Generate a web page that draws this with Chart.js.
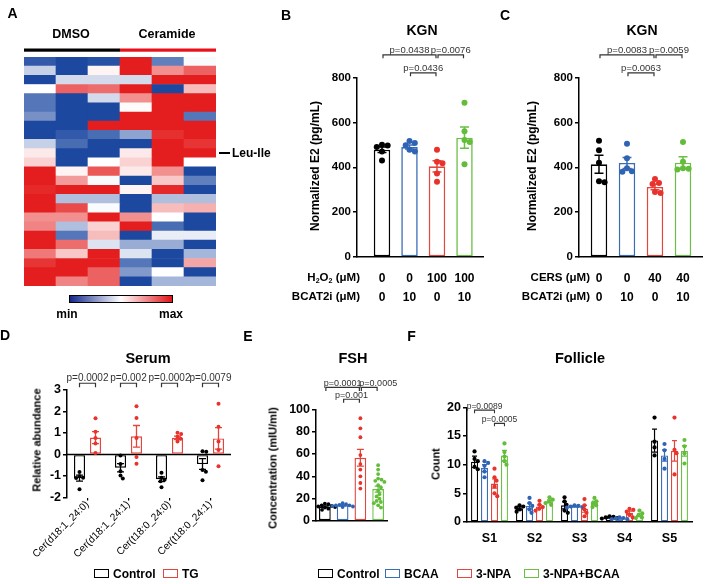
<!DOCTYPE html>
<html><head><meta charset="utf-8">
<script src="https://cdn.jsdelivr.net/npm/chart.js@4.4.1/dist/chart.umd.min.js"></script>
<style>
html,body{margin:0;padding:0;background:#fff;}
#root{position:relative;width:709px;height:584px;overflow:hidden;font-family:"Liberation Sans",Arial,Helvetica,sans-serif;}
#root canvas{position:absolute;left:0;top:0;}
.t{position:absolute;white-space:nowrap;font-weight:bold;color:#000;line-height:1;}
.t sub{font-size:0.62em;vertical-align:-0.2em;line-height:0;}
.box{position:absolute;box-sizing:border-box;background:#fff;}
</style></head>
<body><div id="root"></div>
<script>
// ================= DATA =================
// Panel A heatmap (-1 = min, +1 = max), rows top to bottom
const heatColumns = ['DMSO 1','DMSO 2','DMSO 3','Ceramide 1','Ceramide 2','Ceramide 3'];
const heatValues = [
  [-0.9, -1, -0.95, 1, -0.7, -0.03],
  [-0.25, -1, 0.05, 1, 0.5, 0.7],
  [-1, -0.2, -0.2, -0.2, 1, 1],
  [0, 0.7, 0.65, 1, -1, 0.3],
  [-0.75, -1, -0.2, 0.5, 1, 1],
  [-0.75, -1, -1, 0.02, 1, 1],
  [-0.6, -1, -1, 1, 1, -0.75],
  [-1, -1, 1, 1, 1, 1],
  [-1, -0.9, -0.8, -0.5, 0.92, 1],
  [-0.25, -0.8, -1, -1, 1, 0.9],
  [0.1, -1, -1, 0.1, 1, 1],
  [0.2, -1, 0, 0.2, 1, 0],
  [1, 0.05, 0.75, 0.1, 0.5, -1],
  [1, 0.45, -0.03, -1, 0.25, -0.7],
  [0.95, 1, 1, 0.05, 0.95, -1],
  [1, -0.35, -0.35, -1, -0.35, -0.35],
  [1, 0.8, -0.02, -1, 0.3, 0.35],
  [0.5, 0.5, 1, 0.5, 0, -1],
  [0.55, -0.35, 0.2, 1, -0.8, -1],
  [1, -0.75, 0.3, -1, -0.1, -0.1],
  [1, 0.65, -0.15, -0.45, -0.45, -1],
  [0.6, 0.25, 1, -0.15, -1, -0.4],
  [0.9, 1, 1, -0.75, -1, 0.4],
  [1, 1, 0.7, -0.55, 0, -1],
  [1, 0.55, 0.7, -1, -0.4, -0.4]
];
const heatLabelRow = 10;          // Leu-Ile
const heatLabel = 'Leu-Ile';

// Panel B (KGN, H2O2)
const bRow1 = ['0', '0', '100', '100'];
const bRow2 = ['0', '10', '0', '10'];
const bMeans = [478, 490, 404, 532];
const bSem = [12, 9, 25, 47];
const bPoints = [[500, 497, 490, 470, 430], [517, 508, 498, 478, 470], [478, 425, 418, 372, 335], [688, 560, 522, 512, 413]];
const bPvals = ['p=0.0438', 'p=0.0076', 'p=0.0436'];

// Panel C (KGN, CERS)
const cRow1 = ['0', '0', '40', '40'];
const cRow2 = ['0', '10', '0', '10'];
const cMeans = [413, 419, 312, 420];
const cSem = [40, 25, 12, 27];
const cPoints = [[518, 476, 420, 338, 333], [505, 440, 395, 382, 380], [348, 330, 325, 290, 285], [512, 425, 395, 393, 390]];
const cPvals = ['p=0.0083', 'p=0.0059', 'p=0.0063'];

// Panel D (Serum)
const dCats = ['Cer(d18:1_24:0)', 'Cer(d18:1_24:1)', 'Cer(t18:0_24:0)', 'Cer(t18:0_24:1)'];
const dCtrlMean = [-1.1, -0.62, -1.15, -0.45];
const dCtrlSem = [0.14, 0.19, 0.11, 0.25];
const dCtrlPts = [[-0.82, -1.02, -1.08, -1.1, -1.62], [-0.05, -0.45, -0.78, -0.98, -1.12], [-0.85, -1.08, -1.18, -1.25, -1.52], [0.15, 0.12, -0.72, -0.8, -1.2]];
const dTgMean = [0.78, 0.84, 0.77, 0.74];
const dTgSem = [0.28, 0.5, 0.08, 0.5];
const dTgPts = [[1.68, 1.05, 0.76, 0.5, 0.06], [2.23, 1.69, 0.76, -0.12, -0.43], [1.0, 0.95, 0.82, 0.72, 0.6], [2.35, 1.28, 0.6, 0.2, -0.55]];
const dPvals = ['p=0.0002', 'p=0.002', 'p=0.0002', 'p=0.0079'];

// Panel E (FSH)
const eGroups = ['Control', 'BCAA', '3-NPA', '3-NPA+BCAA'];
const eMeans = [12.9, 14.0, 56.6, 28.6];
const eSem = [0.7, 0.5, 7.5, 2.7];
const ePoints = [
  [15.5, 15, 14, 13.5, 13, 12.5, 12, 11, 10],
  [16, 15, 14.5, 14, 14, 13.5, 13, 12.5],
  [92, 83, 75, 59, 51, 46, 40, 34, 29],
  [50, 46, 42, 38, 37, 36, 35, 32, 30, 27, 24, 22, 20, 18, 17, 16, 14, 12]
];
const ePvals = ['p=0.0001', 'p=0.0005', 'p=0.001'];

// Panel F (Follicle)
const fCats = ['S1', 'S2', 'S3', 'S4', 'S5'];
const fCtrlMean = [10.5, 2.4, 2.9, 0.8, 14.2];
const fBcaaMean = [9.4, 2.8, 2.7, 0.6, 11.6];
const fNpaMean = [6.7, 2.7, 2.3, 1.6, 12.4];
const fComboMean = [11.6, 3.6, 3.3, 1.2, 12.4];
const fCtrlSem = [1.0, 0.25, 0.6, 0.08, 2.0];
const fBcaaSem = [0.6, 0.5, 0.08, 0.06, 1.0];
const fNpaSem = [0.8, 0.3, 0.6, 0.3, 1.8];
const fComboSem = [0.9, 0.25, 0.35, 0.28, 0.9];
const fCtrlPts = [[12.3, 11.0, 10.6, 9.6, 9.2], [2.9, 2.7, 2.5, 2.2, 1.8], [4.3, 3.6, 3.0, 2.0, 1.6], [1.0, 0.9, 0.8, 0.7, 0.6], [18.2, 14.0, 13.0, 11.6]];
const fBcaaPts = [[10.6, 10.3, 9.8, 8.8, 7.8], [4.2, 3.3, 2.8, 2.2, 1.6], [2.9, 2.8, 2.7, 2.6, 2.5], [0.8, 0.7, 0.6, 0.5, 0.5], [13.6, 12.5, 11.0, 9.3]];
const fNpaPts = [[9.3, 7.8, 7.2, 6.2, 5.0, 4.5], [3.7, 3.0, 2.6, 2.3, 2.0], [4.0, 2.9, 2.2, 1.6, 1.0], [2.3, 2.1, 1.8, 1.2, 0.8], [18.2, 12.6, 12.0, 8.3]];
const fComboPts = [[13.7, 12.2, 11.4, 10.6, 10.0], [4.3, 3.9, 3.6, 3.3, 3.0], [4.2, 3.6, 3.3, 2.9, 2.6], [2.0, 1.5, 1.2, 0.8, 0.7], [14.3, 13.2, 12.0, 10.2]];
const fPvals = ['p=0.0089', 'p=0.0005'];

// ================= STYLE =================
const FONT = '"Liberation Sans", Arial, Helvetica, sans-serif';
const barColors = ['#000000', '#3b6db6', '#e2463d', '#6abf45'];
const dotColors = ['#000000', '#2f63b3', '#e8322b', '#63bd3b'];
Chart.defaults.font.family = FONT;
Chart.defaults.color = '#000';

const W = 709, H = 584;
const root = document.getElementById('root');

function newCtx() {
  const c = document.createElement('canvas');
  c.width = W; c.height = H; c.style.width = W + 'px'; c.style.height = H + 'px';
  root.appendChild(c);
  return c.getContext('2d');
}
function text(html, x, y, o = {}) {
  const d = document.createElement('div');
  d.className = 't';
  d.innerHTML = html;
  d.style.left = x + 'px'; d.style.top = y + 'px';
  d.style.fontSize = (o.size || 12) + 'px';
  if (o.weight) d.style.fontWeight = o.weight;
  if (o.color) d.style.color = o.color;
  let tr = o.align === 'left' ? 'translate(0,-50%)' : o.align === 'right' ? 'translate(-100%,-50%)' : 'translate(-50%,-50%)';
  if (o.rot) tr += ' rotate(' + o.rot + 'deg)';
  d.style.transform = tr;
  root.appendChild(d);
}
function legendItem(x, y, color, label) {
  const d = document.createElement('div');
  d.className = 'box';
  Object.assign(d.style, { left: x + 'px', top: (y - 4.5) + 'px', width: '15px', height: '9px', border: '1.5px solid ' + color });
  root.appendChild(d);
  text(label, x + 19, y + 0.5, { size: 12, align: 'left' });
}
function pad(area, yW, xH) {
  return { left: area.l - yW, top: area.t, right: W - area.r, bottom: H - area.b - xH };
}
const pick = (v, j) => Array.isArray(v) ? v[j] : v;

function heatColor(v) {
  const lo = [28, 72, 160], hi = [228, 30, 30];
  const t = Math.min(1, Math.abs(v)), e = v < 0 ? lo : hi;
  const c = e.map(ec => Math.round(255 + (ec - 255) * t));
  return 'rgb(' + c.join(',') + ')';
}

function swarm(xc, ys, r) {
  const gap = 2 * r * 0.95;
  const idx = ys.map((_, i) => i).sort((a, b) => ys[a] - ys[b]);
  const placed = [], out = new Array(ys.length);
  idx.forEach(i => {
    const y = ys[i];
    const near = placed.filter(p => Math.abs(p.y - y) < gap);
    const cands = [xc];
    near.forEach(p => { const dx = Math.sqrt(gap * gap - (p.y - y) ** 2); cands.push(p.x + dx, p.x - dx); });
    cands.sort((a, b) => Math.abs(a - xc) - Math.abs(b - xc));
    let x = xc;
    for (const c of cands) { if (near.every(p => Math.hypot(p.x - c, p.y - y) >= gap - 0.01)) { x = c; break; } }
    placed.push({ x, y }); out[i] = { x, y };
  });
  return out;
}

function errDots(o) {
  return { id: 'errDots', afterDatasetsDraw(chart) {
    const ctx = chart.ctx, ys = chart.scales.y;
    chart.data.datasets.forEach((ds, di) => {
      const meta = chart.getDatasetMeta(di);
      meta.data.forEach((bar, j) => {
        const raw = ds.data[j];
        const m = (raw && typeof raw === 'object') ? raw.y : raw;
        const s = ds.sem[j], x = bar.x;
        const yt = ys.getPixelForValue(m + s), yb = ys.getPixelForValue(m - s);
        ctx.save();
        ctx.strokeStyle = pick(ds.borderColor, j); ctx.lineWidth = o.lw;
        ctx.beginPath();
        ctx.moveTo(x, yt); ctx.lineTo(x, yb);
        ctx.moveTo(x - o.cap / 2, yt); ctx.lineTo(x + o.cap / 2, yt);
        ctx.moveTo(x - o.cap / 2, yb); ctx.lineTo(x + o.cap / 2, yb);
        ctx.stroke();
        const pts = swarm(x, ds.pts[j].map(v => ys.getPixelForValue(v)), o.r);
        ctx.fillStyle = pick(ds.dotColor, j);
        pts.forEach(p => { ctx.beginPath(); ctx.arc(p.x, p.y, o.r, 0, Math.PI * 2); ctx.fill(); });
        ctx.restore();
      });
    });
  } };
}

function brackets(items, o) {
  return { id: 'brackets', afterDraw(chart) {
    const ctx = chart.ctx, ys = chart.scales.y;
    ctx.save();
    ctx.strokeStyle = '#333'; ctx.fillStyle = '#333'; ctx.lineWidth = o.lw;
    ctx.font = o.size + 'px ' + FONT; ctx.textAlign = 'center'; ctx.textBaseline = 'bottom';
    items.forEach(it => {
      const xa = chart.getDatasetMeta(it.from[0]).data[it.from[1]].x + o.inset;
      const xb = chart.getDatasetMeta(it.to[0]).data[it.to[1]].x - o.inset;
      const y = ys.getPixelForValue(it.level);
      ctx.beginPath();
      ctx.moveTo(xa, y + o.leg); ctx.lineTo(xa, y); ctx.lineTo(xb, y); ctx.lineTo(xb, y + o.leg);
      ctx.stroke();
      ctx.fillText(it.label, (xa + xb) / 2 + (it.shift || 0), y + 0.5);
    });
    ctx.restore();
  } };
}

const zeroLine = { id: 'zeroLine', beforeDatasetsDraw(chart) {
  const ctx = chart.ctx, a = chart.chartArea, y = chart.scales.y.getPixelForValue(0);
  ctx.save(); ctx.strokeStyle = '#000'; ctx.lineWidth = 1.5;
  ctx.beginPath(); ctx.moveTo(a.left, y); ctx.lineTo(a.right, y); ctx.stroke(); ctx.restore();
} };

function baseOpts(padding, scales) {
  return { responsive: false, animation: false, devicePixelRatio: 1, events: [],
    layout: { padding },
    plugins: { legend: { display: false }, tooltip: { enabled: false }, title: { display: false } },
    scales };
}
function yAxis(min, max, step, w, fs) {
  return { min, max, position: 'left',
    ticks: { display: true, autoSkip: false, color: '#000', stepSize: step, font: { size: fs, weight: 'bold' }, padding: 2 },
    grid: { display: true, drawOnChartArea: false, drawTicks: true, tickLength: 4, color: '#000', lineWidth: 1.5 },
    border: { display: true, color: '#000', width: 1.5 },
    afterFit: s => { s.width = w; } };
}
function linX(min, max, row1, row2) {
  return { type: 'linear', min, max, offset: false,
    afterBuildTicks: s => { s.ticks = row1.map((_, i) => ({ value: i + 1 })); },
    ticks: { autoSkip: false, maxRotation: 0, padding: 4.5, font: { size: 12, weight: 'bold', lineHeight: 1.55 },
      callback: v => [row1[v - 1], row2[v - 1]] },
    grid: { display: false },
    border: { display: true, color: '#000', width: 1.5 },
    afterFit: s => { s.height = 60; } };
}

// ================= PANEL A : heatmap =================
const areaA = { l: 24, r: 216, t: 57, b: 286 };
const hmHeader = { id: 'hmHeader', afterDraw(chart) {
  const ctx = chart.ctx, xs = chart.scales.x, a = chart.chartArea;
  const mid = (xs.getPixelForValue(2) + xs.getPixelForValue(3)) / 2;
  ctx.fillStyle = '#000'; ctx.fillRect(a.left, 48.5, mid - a.left, 3.2);
  ctx.fillStyle = '#e8101a'; ctx.fillRect(mid, 48.5, a.right - mid, 3.2);
} };
new Chart(newCtx(), {
  type: 'bar',
  data: { labels: heatColumns,
    datasets: heatValues.slice().reverse().map(row => ({
      data: row.map(() => 1), backgroundColor: row.map(heatColor), borderWidth: 0,
      barPercentage: 1, categoryPercentage: 1 })) },
  options: baseOpts(pad(areaA, 0, 0), {
    x: { display: false, stacked: true },
    y: { display: false, stacked: true, min: 0, max: heatValues.length } }),
  plugins: [hmHeader]
});

// ================= PANEL B =================
const areaB = { l: 357, r: 483, t: 77.5, b: 257 };
new Chart(newCtx(), {
  type: 'bar',
  data: { datasets: [{ data: bMeans.map((v, i) => ({ x: i + 1, y: v })), sem: bSem, pts: bPoints,
    borderColor: barColors, dotColor: dotColors, backgroundColor: '#fff', borderWidth: 1.6, borderSkipped: false,
    categoryPercentage: 1, barPercentage: 0.6 }] },
  options: baseOpts(pad(areaB, 45, 60), { x: linX(0.091, 4.673, bRow1, bRow2), y: yAxis(0, 800, 200, 45, 11.5) }),
  plugins: [errDots({ lw: 1.5, cap: 9, r: 3 }), brackets([
    { from: [0, 0], to: [0, 2], level: 901, label: bPvals[0] },
    { from: [0, 2], to: [0, 3], level: 901, label: bPvals[1] },
    { from: [0, 1], to: [0, 2], level: 821, label: bPvals[2] }], { lw: 1.2, leg: 3.5, inset: 1, size: 9.5 })]
});

// ================= PANEL C =================
const areaC = { l: 579, r: 702, t: 77.5, b: 257 };
new Chart(newCtx(), {
  type: 'bar',
  data: { datasets: [{ data: cMeans.map((v, i) => ({ x: i + 1, y: v })), sem: cSem, pts: cPoints,
    borderColor: barColors, dotColor: dotColors, backgroundColor: '#fff', borderWidth: 1.6, borderSkipped: false,
    categoryPercentage: 1, barPercentage: 0.59 }] },
  options: baseOpts(pad(areaC, 45, 60), { x: linX(0.286, 4.679, cRow1, cRow2), y: yAxis(0, 800, 200, 45, 11.5) }),
  plugins: [errDots({ lw: 1.5, cap: 9, r: 3 }), brackets([
    { from: [0, 0], to: [0, 2], level: 901, label: cPvals[0] },
    { from: [0, 2], to: [0, 3], level: 901, label: cPvals[1] },
    { from: [0, 1], to: [0, 2], level: 821, label: cPvals[2] }], { lw: 1.2, leg: 3.5, inset: 1, size: 9.5 })]
});

// ================= PANEL D =================
const areaD = { l: 67, r: 231, t: 389.7, b: 497.5 };
const barD = { backgroundColor: '#fff', borderWidth: 1.4, borderSkipped: false, categoryPercentage: 0.78, barPercentage: 0.69 };
new Chart(newCtx(), {
  type: 'bar',
  data: { labels: dCats, datasets: [
    Object.assign({ label: 'Control', data: dCtrlMean, sem: dCtrlSem, pts: dCtrlPts, borderColor: barColors[0], dotColor: dotColors[0] }, barD),
    Object.assign({ label: 'TG', data: dTgMean, sem: dTgSem, pts: dTgPts, borderColor: barColors[2], dotColor: dotColors[2] }, barD)] },
  options: baseOpts(pad(areaD, 30, 78), {
    x: { type: 'category', offset: true,
      grid: { display: true, drawOnChartArea: false, offset: false, tickLength: 3, color: '#000', lineWidth: 1.2 },
      border: { display: false },
      ticks: { autoSkip: false, minRotation: 45, maxRotation: 45, font: { size: 10.3 }, padding: -2 },
      afterFit: s => { s.height = 78; } },
    y: yAxis(-2, 3, 1, 30, 12.5) }),
  plugins: [zeroLine, errDots({ lw: 1.3, cap: 7, r: 2 }), brackets(dPvals.map((p, i) => ({ from: [0, i], to: [1, i], level: 3.3, label: p })),
    { lw: 1.2, leg: 4, inset: 0, size: 10 })]
});

// ================= PANEL E =================
const areaE = { l: 316, r: 387, t: 409.3, b: 521 };
new Chart(newCtx(), {
  type: 'bar',
  data: { labels: eGroups, datasets: [{ data: eMeans, sem: eSem, pts: ePoints, borderColor: barColors, dotColor: dotColors,
    backgroundColor: '#fff', borderWidth: 1.4, borderSkipped: false, categoryPercentage: 1, barPercentage: 0.66 }] },
  options: baseOpts(pad(areaE, 40, 10), {
    x: { type: 'category', offset: true, grid: { display: false }, ticks: { display: false },
      border: { display: true, color: '#000', width: 1.5 }, afterFit: s => { s.height = 10; } },
    y: yAxis(0, 100, 20, 40, 12.5) }),
  plugins: [errDots({ lw: 1.3, cap: 7, r: 1.9 }), brackets([
    { from: [0, 0], to: [0, 2], level: 119.6, label: ePvals[0] },
    { from: [0, 2], to: [0, 3], level: 119.6, label: ePvals[1], shift: 9 },
    { from: [0, 1], to: [0, 2], level: 109, label: ePvals[2] }], { lw: 1.2, leg: 3.5, inset: 1, size: 9 })]
});

// ================= PANEL F =================
const areaF = { l: 467, r: 692, t: 407.3, b: 522 };
const barF = { backgroundColor: '#fff', borderWidth: 1.3, borderSkipped: false, categoryPercentage: 0.887, barPercentage: 0.7 };
new Chart(newCtx(), {
  type: 'bar',
  data: { labels: fCats, datasets: [
    Object.assign({ label: eGroups[0], data: fCtrlMean, sem: fCtrlSem, pts: fCtrlPts, borderColor: barColors[0], dotColor: dotColors[0] }, barF),
    Object.assign({ label: eGroups[1], data: fBcaaMean, sem: fBcaaSem, pts: fBcaaPts, borderColor: barColors[1], dotColor: dotColors[1] }, barF),
    Object.assign({ label: eGroups[2], data: fNpaMean, sem: fNpaSem, pts: fNpaPts, borderColor: barColors[2], dotColor: dotColors[2] }, barF),
    Object.assign({ label: eGroups[3], data: fComboMean, sem: fComboSem, pts: fComboPts, borderColor: barColors[3], dotColor: dotColors[3] }, barF)] },
  options: baseOpts(pad(areaF, 40, 30), {
    x: { type: 'category', offset: true, grid: { display: false },
      ticks: { autoSkip: false, maxRotation: 0, font: { size: 12.5, weight: 'bold' }, padding: 1 },
      border: { display: true, color: '#000', width: 1.5 }, afterFit: s => { s.height = 30; } },
    y: yAxis(0, 20, 5, 40, 12.5) }),
  plugins: [errDots({ lw: 1.2, cap: 5, r: 2.1 }), brackets([
    { from: [0, 0], to: [2, 0], level: 19.5, label: fPvals[0] },
    { from: [2, 0], to: [3, 0], level: 17.2, label: fPvals[1] }], { lw: 1.1, leg: 3, inset: 0, size: 8.5 })]
});

// ================= TEXT =================
text('A', 12.5, 13, { size: 14 });
text('B', 286, 15, { size: 14 });
text('C', 505, 15, { size: 14 });
text('D', 5, 335, { size: 14 });
text('E', 248, 336, { size: 14 });
text('F', 411.5, 336, { size: 14 });

text('DMSO', 71, 33.5, { size: 12.5 });
text('Ceramide', 167, 33.5, { size: 12.5 });
(function () {
  const rowH = (areaA.b - areaA.t) / heatValues.length;
  const y = areaA.t + (heatLabelRow + 0.5) * rowH;
  const ln = document.createElement('div');
  Object.assign(ln.style, { position: 'absolute', left: '219px', top: (y - 0.7) + 'px', width: '11px', height: '1.4px', background: '#000' });
  root.appendChild(ln);
  text(heatLabel, 232, y, { size: 12, align: 'left' });
  const cb = document.createElement('div');
  Object.assign(cb.style, { position: 'absolute', left: '69px', top: '295px', width: '104px', height: '8px', boxSizing: 'border-box',
    border: '1px solid #000', background: 'linear-gradient(to right, rgb(20,40,140), rgb(255,255,255), rgb(225,20,25))' });
  root.appendChild(cb);
})();
text('min', 67, 313.5, { size: 12 });
text('max', 171, 313.5, { size: 12 });

text('KGN', 422, 30, { size: 14 });
text('KGN', 642, 30, { size: 14 });
text('Normalized E2 (pg/mL)', 315, 166, { size: 12, rot: -90 });
text('Normalized E2 (pg/mL)', 532, 166, { size: 12, rot: -90 });
text('H<sub>2</sub>O<sub>2</sub> (μM)', 360, 278, { size: 11.5, align: 'right' });
text('BCAT2i (μM)', 360, 297, { size: 11.5, align: 'right' });
text('CERS (μM)', 590, 278, { size: 11.5, align: 'right' });
text('BCAT2i (μM)', 590, 297, { size: 11.5, align: 'right' });

text('Serum', 148, 358, { size: 14.5 });
text('FSH', 353, 358, { size: 14.5 });
text('Follicle', 580, 358, { size: 14.5 });
text('Relative abundance', 37, 440, { size: 11, rot: -90 });
text('Concentration (mIU/ml)', 273, 468, { size: 11, rot: -90 });
text('Count', 436, 464, { size: 11, rot: -90 });

legendItem(94, 573.5, barColors[0], 'Control');
legendItem(163, 573.5, barColors[2], 'TG');
legendItem(318, 573.5, barColors[0], eGroups[0]);
legendItem(385, 573.5, barColors[1], eGroups[1]);
legendItem(457, 573.5, barColors[2], eGroups[2]);
legendItem(524, 573.5, barColors[3], eGroups[3]);
</script>
</body></html>
